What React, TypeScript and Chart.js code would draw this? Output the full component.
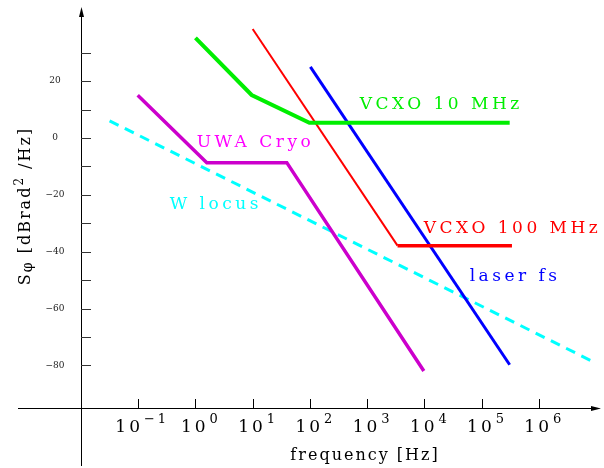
import React, { useEffect, useRef } from "react";
import { Chart, registerables } from "chart.js";
Chart.register(...registerables);

// ---- data (frequency in Hz, S_phi in dBrad^2/Hz) ----
const vcxo10X = [1, 9.6, 98, 3.1e5];
const vcxo10Y = [35.2, 15.1, 5.3, 5.3];
const vcxo100X = [10, 3.4e3, 3.4e5];
const vcxo100Y = [38.3, -37.9, -37.9];
const laserX = [102, 3.1e5];
const laserY = [25, -79.8];
const uwaX = [0.098, 1.58, 39.5, 9800];
const uwaY = [15, -8.7, -8.7, -82];
const wLocusX = [0.0316, 9.5e6];
const wLocusY = [6, -79];

const xTickExponents = [-1, 0, 1, 2, 3, 4, 5, 6];
const yMinorTicks = [30, 20, 10, 0, -10, -20, -30, -40, -50, -60, -70, -80];
const yTickLabels = [20, 0, -20, -40, -60, -80];

const seriesNames = ["VCXO 10 MHz", "VCXO 100 MHz", "laser fs", "UWA Cryo", "W locus"];
// annotation anchor points in data coordinates (freq, value)
const labelFreqs = [740, 9800, 6.2e4, 1.05, 0.355];
const labelValues = [11.6, -32, -48.9, -1.8, -23.6];
const labelColors = ["#00ee00", "#ff0000", "#0000ff", "#ff00ff", "#00ffff"];

const pts = (xs: number[], ys: number[]) => xs.map((x, i) => ({ x, y: ys[i] }));

const SERIF = "'DejaVu Serif', 'Liberation Serif', serif";

const overlay = {
  id: "overlay",
  afterDraw(chart: any) {
    const ctx: CanvasRenderingContext2D = chart.ctx;
    const xs = chart.scales.x;
    const ys = chart.scales.y;
    const ax = xs.getPixelForValue(0.01);
    const ay = ys.getPixelForValue(-95);
    ctx.save();
    ctx.strokeStyle = "#000";
    ctx.fillStyle = "#000";
    ctx.lineWidth = 1;
    // y axis
    ctx.beginPath();
    ctx.moveTo(ax + 0.5, 466);
    ctx.lineTo(ax + 0.5, 12);
    ctx.stroke();
    ctx.beginPath();
    ctx.moveTo(ax + 0.5, 7);
    ctx.lineTo(ax - 2, 17);
    ctx.lineTo(ax + 3, 17);
    ctx.closePath();
    ctx.fill();
    // x axis
    ctx.beginPath();
    ctx.moveTo(18, ay + 0.5);
    ctx.lineTo(596, ay + 0.5);
    ctx.stroke();
    ctx.beginPath();
    ctx.moveTo(601, ay + 0.5);
    ctx.lineTo(591, ay - 2);
    ctx.lineTo(591, ay + 3);
    ctx.closePath();
    ctx.fill();
    // y ticks
    ctx.strokeStyle = "#333";
    for (const v of yMinorTicks) {
      const py = Math.round(ys.getPixelForValue(v)) + 0.5;
      ctx.beginPath();
      ctx.moveTo(ax, py);
      ctx.lineTo(ax + 10, py);
      ctx.stroke();
    }
    ctx.font = `9px ${SERIF}`;
    ctx.fillStyle = "#222";
    ctx.textAlign = "center";
    ctx.textBaseline = "middle";
    for (const v of yTickLabels) {
      const py = ys.getPixelForValue(v);
      ctx.fillText(v < 0 ? "\u2212" + Math.abs(v) : String(v), 55, py);
    }
    // x ticks
    ctx.strokeStyle = "#000";
    for (const e of xTickExponents) {
      const px = Math.round(xs.getPixelForValue(Math.pow(10, e))) + 0.5;
      ctx.beginPath();
      ctx.moveTo(px, ay);
      ctx.lineTo(px, ay - 9);
      ctx.stroke();
    }
    // x tick labels 10^e
    ctx.fillStyle = "#000";
    ctx.textBaseline = "alphabetic";
    ctx.textAlign = "left";
    for (const e of xTickExponents) {
      const px = xs.getPixelForValue(Math.pow(10, e));
      const base = "10";
      const exp = e < 0 ? "\u2212" + Math.abs(e) : String(e);
      ctx.font = `17px ${SERIF}`;
      (ctx as any).letterSpacing = "3px";
      const bw = ctx.measureText(base).width;
      ctx.font = `13px ${SERIF}`;
      (ctx as any).letterSpacing = e < 0 ? "3px" : "0px";
      const ew = ctx.measureText(exp).width;
      const total = bw + 1 + ew;
      const left = px + 4 - total / 2;
      ctx.font = `17px ${SERIF}`;
      (ctx as any).letterSpacing = "3px";
      ctx.fillText(base, left, 432);
      ctx.font = `13px ${SERIF}`;
      (ctx as any).letterSpacing = e < 0 ? "3px" : "0px";
      ctx.fillText(exp, left + bw + 1, 423);
    }
    (ctx as any).letterSpacing = "0px";
    // x title
    ctx.font = `16px ${SERIF}`;
    (ctx as any).letterSpacing = "2px";
    ctx.textAlign = "center";
    ctx.fillText("frequency [Hz]", 365, 460);
    // y title (rotated)
    ctx.save();
    ctx.translate(30, 206);
    ctx.rotate(-Math.PI / 2);
    ctx.textAlign = "left";
    (ctx as any).letterSpacing = "2px";
    const parts: [string, number, number][] = [
      ["S", 16, 0],
      ["\u03C6", 14, 2],
      [" [dBrad", 16, 0],
      ["2", 12, -7],
      [" /Hz]", 16, 0],
    ];
    let w = 0;
    for (const [t, s] of parts) {
      ctx.font = `${s}px ${SERIF}`;
      w += ctx.measureText(t).width;
    }
    let cx = -w / 2;
    for (const [t, s, dy] of parts) {
      ctx.font = `${s}px ${SERIF}`;
      ctx.fillText(t, cx, dy);
      cx += ctx.measureText(t).width;
    }
    ctx.restore();
    // series annotations
    ctx.font = `17px ${SERIF}`;
    (ctx as any).letterSpacing = "3.5px";
    ctx.textAlign = "left";
    ctx.textBaseline = "middle";
    seriesNames.forEach((name, i) => {
      ctx.fillStyle = labelColors[i];
      ctx.fillText(name, xs.getPixelForValue(labelFreqs[i]), ys.getPixelForValue(labelValues[i]));
    });
    ctx.restore();
  },
};

export default function App() {
  const ref = useRef<HTMLCanvasElement>(null);
  useEffect(() => {
    if (!ref.current) return;
    const chart = new Chart(ref.current, {
      type: "line",
      data: {
        datasets: [
          { label: seriesNames[0], data: pts(vcxo10X, vcxo10Y), borderColor: "#00ee00", borderWidth: 4 },
          {
            label: seriesNames[1],
            data: pts(vcxo100X, vcxo100Y),
            borderColor: "#ff0000",
            borderWidth: 2,
            segment: { borderWidth: (c: any) => (c.p0DataIndex === 1 ? 3.5 : 2) },
          } as any,
          { label: seriesNames[2], data: pts(laserX, laserY), borderColor: "#0000ff", borderWidth: 3 },
          { label: seriesNames[3], data: pts(uwaX, uwaY), borderColor: "#cc00cc", borderWidth: 3.5 },
          { label: seriesNames[4], data: pts(wLocusX, wLocusY), borderColor: "#00ffff", borderWidth: 3, borderDash: [10, 7] },
        ],
      },
      options: {
        responsive: false,
        animation: false,
        layout: { padding: { left: 81, right: 8, top: 10, bottom: 60 } },
        elements: { point: { radius: 0 }, line: { tension: 0, borderCapStyle: "butt", borderJoinStyle: "miter" } },
        plugins: { legend: { display: false }, tooltip: { enabled: false } },
        scales: {
          x: { type: "logarithmic", min: 0.01, max: 1e7, display: false },
          y: { type: "linear", min: -95, max: 45, display: false },
        },
      },
      plugins: [overlay],
    });
    return () => chart.destroy();
  }, []);
  return (
    <div style={{ position: "fixed", left: 0, top: 0, width: 604, height: 468, background: "#fff" }}>
      <canvas ref={ref} width={604} height={468} style={{ width: 604, height: 468 }} />
    </div>
  );
}
